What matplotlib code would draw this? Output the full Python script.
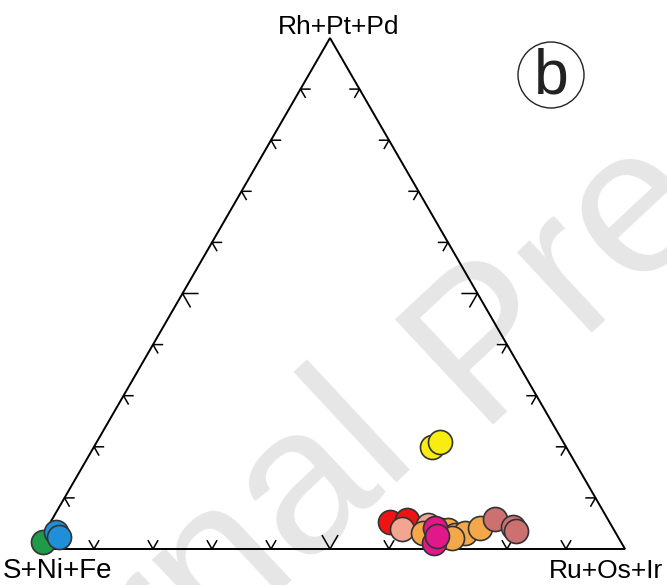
import numpy as np
import matplotlib
matplotlib.use("Agg")
import matplotlib.pyplot as plt
from matplotlib.patches import Circle

plt.rcParams['font.family'] = ['Liberation Sans', 'DejaVu Sans']

# Ternary compositions (%): L = S+Ni+Fe, T = Rh+Pt+Pd, R = Ru+Os+Ir
apex_labels = ["S+Ni+Fe", "Rh+Pt+Pd", "Ru+Os+Ir"]

groups = [
    # name, color, T list, R list
    ("green",   "#1f9a48", [1.4],             [0.7]),
    ("blue",    "#1e8fd8", [3.3, 2.4],        [1.9, 2.9]),
    ("red",     "#ee1414", [5.3, 5.7],        [57.5, 60.2]),
    ("salmon",  "#f2a590", [4.7, 3.9],        [64.3, 60.3]),
    ("orange",  "#f5a84a", [3.1, 3.7, 3.7, 2.7, 3.1, 4.1, 2.2],
                           [64.2, 66.9, 68.1, 69.8, 71.3, 73.4, 69.6]),
    ("magenta", "#e0188a", [4.1, 1.2, 2.5],   [65.7, 67.0, 66.9]),
    ("rose",    "#cc7070", [5.9, 4.3, 3.5],   [75.0, 78.9, 79.8]),
    ("yellow",  "#f8ec10", [20.0, 20.9],      [57.3, 58.2]),
]

tick_fracs = [k / 10 for k in range(1, 10)]

H = np.sqrt(3) / 2


def tern(T, R):
    T = np.asarray(T) / 100.0
    R = np.asarray(R) / 100.0
    return R + T / 2, T * H


W, Hpx = 667, 585
fig = plt.figure(figsize=(W / 100, Hpx / 100), dpi=100)

# overlay axes in pixel coords (labels, watermark, panel letter)
ov = fig.add_axes([0, 0, 1, 1])
ov.set_xlim(0, W)
ov.set_ylim(Hpx, 0)
ov.axis('off')

wm_kw = dict(fontsize=150, color='#e6e6e6', rotation=43, rotation_mode='anchor',
             va='baseline', zorder=0)
ov.text(420, 457, "Journal", ha='right', **wm_kw)
ov.text(477, 425, "Pre-proof", ha='left', **wm_kw)

ov.text(339, 34, apex_labels[1], ha='center', va='baseline', fontsize=19)
ov.text(3, 578, apex_labels[0], ha='left', va='baseline', fontsize=20)
ov.text(663, 578, apex_labels[2], ha='right', va='baseline', fontsize=19)

ov.add_patch(Circle((551, 75), 33, fill=False, ec='#222222', lw=1.0))
ov.text(551, 77, "b", ha='center', va='center', fontsize=45, color='#222222')

# ternary axes
x0, yb, wpx, hpx = 35, 549, 590, 511
ax = fig.add_axes([x0 / W, (Hpx - yb) / Hpx, wpx / W, hpx / Hpx])
ax.set_xlim(0, 1)
ax.set_ylim(0, H)
ax.patch.set_alpha(0)
ax.axis('off')

ax.plot([0, 1, 0.5, 0], [0, 0, H, 0], color='black', lw=1.4, clip_on=False,
        solid_joinstyle='miter')

for f in tick_fracs:
    a = 0.026 if abs(f - 0.5) < 1e-9 else 0.016
    # base ticks "v"
    px, py = f, 0
    ax.plot([px - 0.5 * a, px, px + 0.5 * a], [H * a, py, H * a], color='black', lw=1.1)
    # left edge ticks
    px, py = 0.5 * f, H * f
    ax.plot([px + a, px, px + 0.5 * a], [py, py, py - H * a], color='black', lw=1.1)
    # right edge ticks
    px, py = 1 - 0.5 * f, H * f
    ax.plot([px - a, px, px - 0.5 * a], [py, py, py - H * a], color='black', lw=1.1)

for i, (name, col, T, R) in enumerate(groups):
    xs, ys = tern(T, R)
    ax.scatter(xs, ys, s=300, c=col, edgecolors='#333333', linewidths=1.2,
               zorder=3 + i, clip_on=False)

fig.savefig("out.png", dpi=100)
